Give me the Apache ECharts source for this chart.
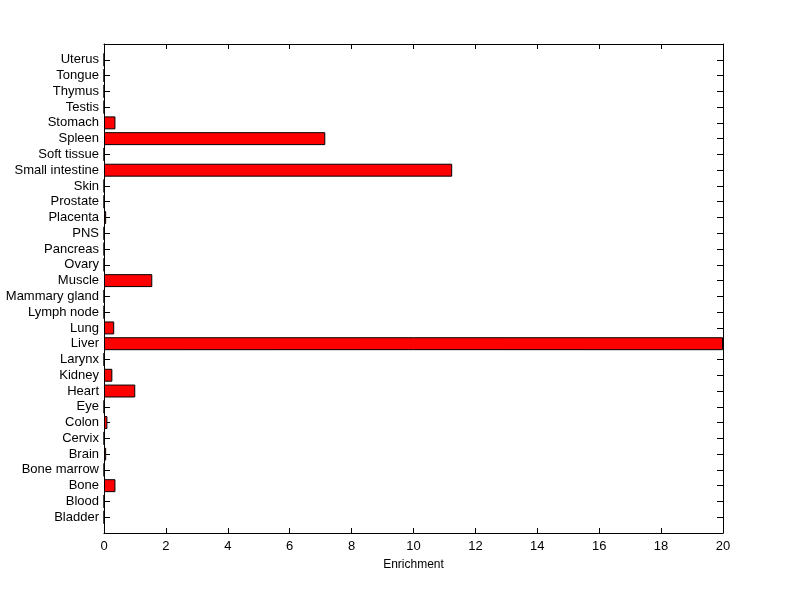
<!DOCTYPE html>
<html>
<head>
<meta charset="utf-8">
<script src="https://cdn.jsdelivr.net/npm/echarts@6/dist/echarts.min.js"></script>
<style>html,body{margin:0;padding:0;background:#fff;}#c{width:800px;height:599px;}</style>
</head>
<body>
<div id="c"></div>
<script>
const tissues = ['Bladder','Blood','Bone','Bone marrow','Brain','Cervix','Colon','Eye','Heart','Kidney','Larynx','Liver','Lung','Lymph node','Mammary gland','Muscle','Ovary','Pancreas','PNS','Placenta','Prostate','Skin','Small intestine','Soft tissue','Spleen','Stomach','Testis','Thymus','Tongue','Uterus'];
const enrichment = [0,0,0.37,0,0.07,0,0.11,0,1.01,0.27,0,20,0.33,0,0,1.56,0,0,0,0.07,0,0,11.25,0,7.15,0.37,0,0,0,0];
const xTicks = [0,2,4,6,8,10,12,14,16,18,20];

const cats = [''].concat(tissues, ['']);
const vals = [null].concat(enrichment, [null]);
const font = 'Liberation Sans, Arial, sans-serif';
const chart = echarts.init(document.getElementById('c'));
const lineStyle = {color:'#000', width:1};
chart.setOption({
  animation:false,
  grid:{left:104, right:77, top:44, bottom:66, show:false},
  xAxis:[{
    type:'value', min:xTicks[0], max:xTicks[xTicks.length-1], interval:2, position:'bottom',
    name:'Enrichment', nameLocation:'middle', nameGap:26,
    nameTextStyle:{color:'#000', fontSize:12, fontFamily:font},
    axisLine:{show:true, lineStyle}, axisTick:{show:true, inside:true, length:5, lineStyle},
    axisLabel:{color:'#000', fontSize:13, fontFamily:font, margin:7},
    splitLine:{show:false}
  },{
    type:'value', min:xTicks[0], max:xTicks[xTicks.length-1], interval:2, position:'top',
    axisLine:{show:true, lineStyle}, axisTick:{show:true, inside:true, length:5, lineStyle},
    axisLabel:{show:false}, splitLine:{show:false}
  }],
  yAxis:[{
    type:'category', data:cats, boundaryGap:false, position:'left',
    axisLine:{show:true, onZero:false, lineStyle}, axisTick:{show:true, inside:true, length:6, lineStyle},
    axisLabel:{color:'#000', fontSize:13, fontFamily:font, margin:5, interval:0, padding:[2,0,0,0]},
    splitLine:{show:false}
  },{
    type:'category', data:cats, boundaryGap:false, position:'right',
    axisLine:{show:true, onZero:false, lineStyle}, axisTick:{show:true, inside:true, length:6, lineStyle},
    axisLabel:{show:false}, splitLine:{show:false}
  }],
  series:[{
    type:'bar', data:vals, xAxisIndex:0, yAxisIndex:0, barWidth:'82%',
    itemStyle:{color:'#ff0000', borderColor:'#000', borderWidth:1}
  }]
});
</script>
</body>
</html>
